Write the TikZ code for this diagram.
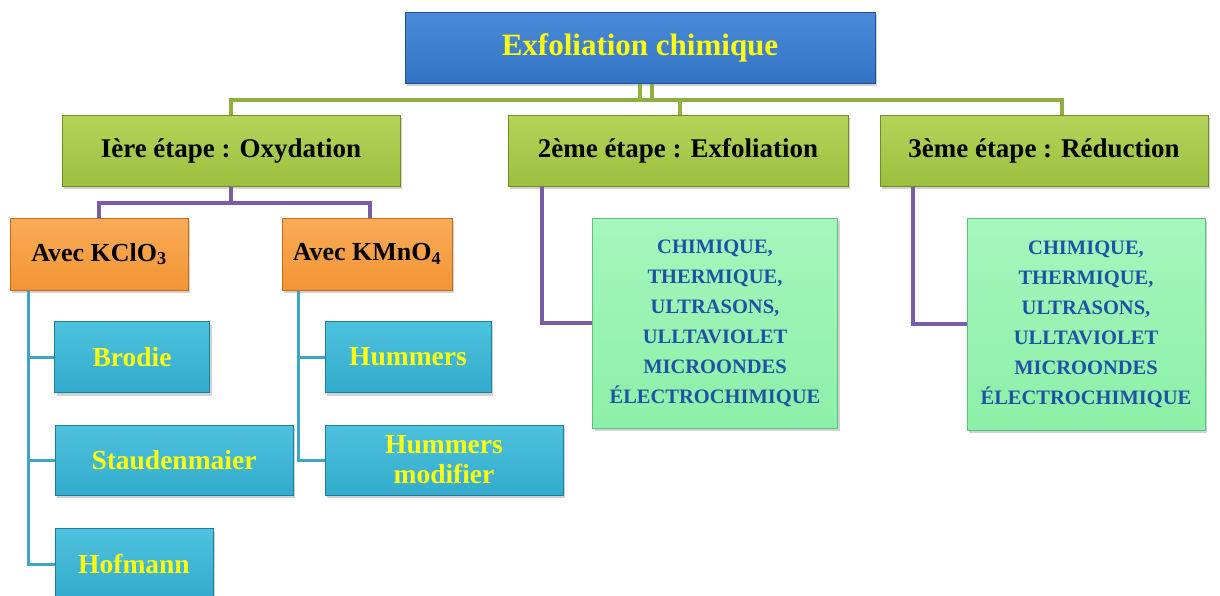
\documentclass[tikz,border=0pt]{standalone}
\usepackage{fontspec}
\setmainfont{Liberation Serif}
\usetikzlibrary{positioning,shadows,calc}

\definecolor{titleblue}{HTML}{3273C4}
\definecolor{titleblueL}{HTML}{4A8BD8}
\definecolor{titleblueD}{HTML}{1F4F8F}
\definecolor{stagegreen}{HTML}{9CBF3E}
\definecolor{stagegreenL}{HTML}{B4D45A}
\definecolor{stagegreenD}{HTML}{6F8C2A}
\definecolor{oxorange}{HTML}{F39434}
\definecolor{oxorangeL}{HTML}{F8AC58}
\definecolor{oxorangeD}{HTML}{C8681A}
\definecolor{methcyan}{HTML}{33ABCC}
\definecolor{methcyanL}{HTML}{4EC2DE}
\definecolor{methcyanD}{HTML}{1D7E99}
\definecolor{techmint}{HTML}{8CF0A8}
\definecolor{techmintL}{HTML}{A6F6BD}
\definecolor{techmintD}{HTML}{5DBF7C}
\definecolor{techtext}{HTML}{1F52A4}
\definecolor{labelyellow}{HTML}{FFFF10}
\definecolor{linegreen}{HTML}{8FB040}
\definecolor{linepurple}{HTML}{7B5CA6}
\definecolor{linecyan}{HTML}{3BA7C2}

\tikzset{
    box/.style={draw, line width=1pt, inner sep=2pt, align=center,
        drop shadow={shadow xshift=2pt, shadow yshift=-3pt, opacity=0.35}},
    titlebox/.style={box, draw=titleblueD, top color=titleblueL, bottom color=titleblue,
        text=labelyellow, minimum width=470pt, minimum height=71pt,
        font=\fontsize{31}{34}\selectfont\bfseries},
    stagebox/.style={box, draw=stagegreenD, top color=stagegreenL, bottom color=stagegreen,
        text=black, minimum height=71pt, font=\fontsize{27}{30}\selectfont\bfseries},
    oxbox/.style={box, draw=oxorangeD, top color=oxorangeL, bottom color=oxorange,
        text=black, minimum height=72pt, font=\fontsize{26}{30}\selectfont\bfseries},
    methbox/.style={box, draw=methcyanD, top color=methcyanL, bottom color=methcyan,
        text=labelyellow, minimum height=71pt, font=\fontsize{27.5}{30}\selectfont\bfseries},
    techbox/.style={box, draw=techmintD, top color=techmintL, bottom color=techmint,
        text=techtext, minimum height=210pt, font=\fontsize{20.5}{30}\selectfont\bfseries},
    greenline/.style={draw=linegreen, line width=3.5pt},
    purpleline/.style={draw=linepurple, line width=3.5pt},
    cyanline/.style={draw=linecyan, line width=3pt}
}

\begin{document}
\begin{tikzpicture}[x=1pt, y=-1pt]
    \useasboundingbox[fill=white] (0,0) rectangle (1220,596);

    % level 0 and 1
    \node[titlebox] (title) at (640,48) {Exfoliation chimique};
    \node[stagebox, minimum width=338pt] (ox) at (231,151) {Ière étape : Oxydation};
    \node[stagebox, minimum width=340pt] (exf) at (678,151) {2ème étape : Exfoliation};
    \node[stagebox, minimum width=328pt] (red) at (1044,151) {3ème étape : Réduction};

    % oxidants
    \node[oxbox, minimum width=178pt] (kclo) at (99,254) {Avec KClO\textsubscript{3}};
    \node[oxbox, minimum width=170pt] (kmno) at (367,254) {Avec KMnO\textsubscript{4}};

    % methods
    \node[methbox, minimum width=155pt] (brodie) at (132,357) {Brodie};
    \node[methbox, minimum width=238pt, minimum height=70pt] (staud) at (174,460) {Staudenmaier};
    \node[methbox, minimum width=158pt] (hofmann) at (134,564) {Hofmann};
    \node[methbox, minimum width=166pt] (hummers) at (408,357) {Hummers};
    \node[methbox, minimum width=238pt, minimum height=70pt] (hummod) at (444,460) {Hummers\\modifier};

    % techniques
    \node[techbox, minimum width=245pt] (techA) at (715,323)
        {CHIMIQUE,\\THERMIQUE,\\ULTRASONS,\\ULLTAVIOLET\\MICROONDES\\ÉLECTROCHIMIQUE};
    \node[techbox, minimum width=238pt, minimum height=212pt] (techB) at (1086,324)
        {CHIMIQUE,\\THERMIQUE,\\ULTRASONS,\\ULLTAVIOLET\\MICROONDES\\ÉLECTROCHIMIQUE};

    % connectors
    \draw[greenline] (title.south) -- ++(0,17);
    \draw[greenline] ([xshift=12pt]title.south) -- ++(0,17);
    \draw[greenline] (ox.north) -- (ox.north |- 0,100) -| ([xshift=18pt]red.north);
    \draw[greenline] ([xshift=2pt]exf.north) -- ([xshift=2pt]exf.north |- 0,100);

    \draw[purpleline] (ox.south) -- ++(0,16) -| (kclo.north);
    \draw[purpleline] (ox.south) ++(0,16) -| ([xshift=3pt]kmno.north);
    \draw[purpleline] ([xshift=-136pt]exf.south) |- (techA.west);
    \draw[purpleline] ([xshift=-131pt]red.south) |- (techB.west);

    \coordinate (kspine) at ([xshift=-71pt]kclo.south);
    \coordinate (mspine) at ([xshift=-69pt]kmno.south);
    \draw[cyanline] (kspine) |- (brodie.west);
    \draw[cyanline] (kspine) |- (staud.west);
    \draw[cyanline] (kspine) |- (hofmann.west);
    \draw[cyanline] (mspine) |- (hummers.west);
    \draw[cyanline] (mspine) |- (hummod.west);
\end{tikzpicture}
\end{document}
